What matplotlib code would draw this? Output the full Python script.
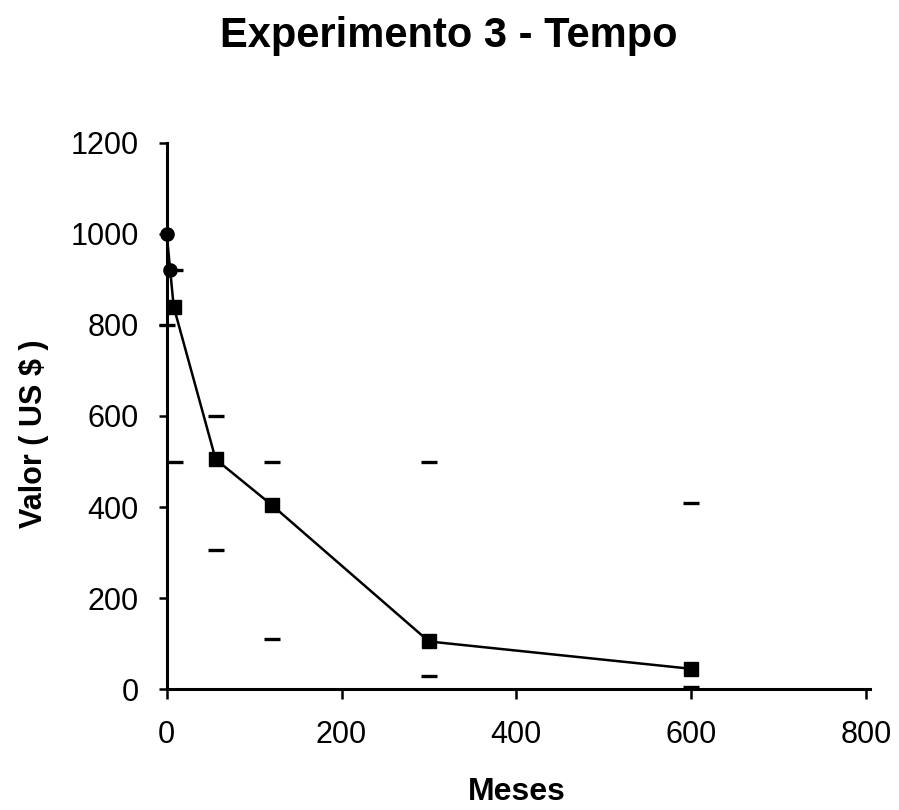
import matplotlib
matplotlib.use("Agg")
import matplotlib.pyplot as plt

plt.rcParams['font.family'] = ['Liberation Sans', 'DejaVu Sans']

# Mean value over time
meses = [0, 4, 8, 56, 120, 300, 600]
valor = [1000, 920, 840, 505, 405, 105, 45]
marcador = ['o', 'o', 's', 's', 's', 's', 's']

# Upper / lower readings shown as dashes
extremo_x = [0, 10, 10, 56, 56, 120, 120, 300, 300, 600, 600]
extremo_y = [800, 920, 500, 600, 305, 500, 110, 500, 30, 410, 4]

x_ticks = [0, 200, 400, 600, 800]
y_ticks = [0, 200, 400, 600, 800, 1000, 1200]

W, H = 899, 810
fig = plt.figure(figsize=(W / 100, H / 100), dpi=100)
left, right, bottom, top = 166.7, 866.0, 689.3, 142.7
ax = fig.add_axes([left / W, 1 - bottom / H, (right - left) / W, (bottom - top) / H])

ax.plot(meses, valor, color='black', linewidth=1.8, zorder=2, clip_on=False)
for xv, yv, m in zip(meses, valor, marcador):
    ax.plot([xv], [yv], linestyle='none', marker=m, color='black',
            markersize=9.5 if m == 's' else 9.5, zorder=3, clip_on=False)
ax.plot(extremo_x, extremo_y, linestyle='none', marker='_', color='black',
        markersize=11, markeredgewidth=2.4, zorder=3, clip_on=False)

ax.set_xlim(0, 800)
ax.set_ylim(0, 1200)
ax.set_xticks(x_ticks)
ax.set_yticks(y_ticks)
ax.set_xticklabels([str(v) for v in x_ticks])
ax.set_yticklabels([str(v) for v in y_ticks])

for s in ('top', 'right'):
    ax.spines[s].set_visible(False)
for s in ('left', 'bottom'):
    ax.spines[s].set_linewidth(2.2)
    ax.spines[s].set_color('black')
ax.spines['bottom'].set_bounds(0, 805)
ax.tick_params(axis='y', direction='out', length=6, width=1.8, pad=14, labelsize=22)
ax.tick_params(axis='x', direction='out', length=7, width=1.8, pad=15, labelsize=22)

fig.text(449 / W, 1 - 47 / H, 'Experimento 3 - Tempo', ha='center', va='baseline',
         fontsize=30, fontweight='bold')
fig.text(517 / W, 1 - 800 / H, 'Meses', ha='center', va='baseline',
         fontsize=23, fontweight='bold')
fig.text(34 / W, 1 - 434 / H, 'Valor ( US $ )', ha='center', va='center',
         rotation=90, fontsize=22, fontweight='bold')

fig.savefig('out.png', dpi=100, facecolor='white')
